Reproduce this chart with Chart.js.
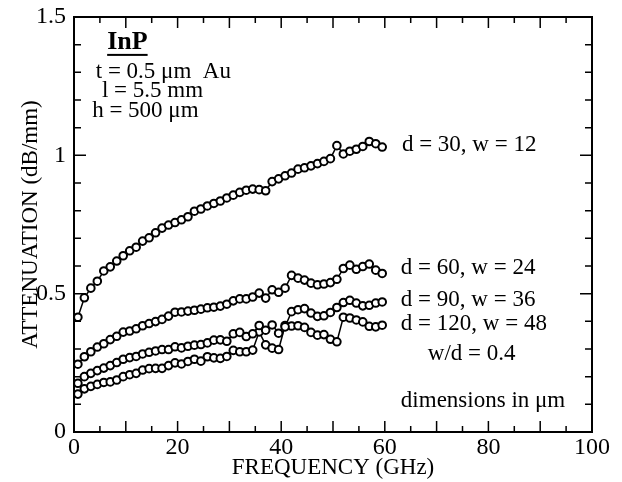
<!DOCTYPE html>
<html>
<head>
<meta charset="utf-8">
<script src="https://cdn.jsdelivr.net/npm/chart.js@4"></script>
<style>
  body { margin: 0; background: #fff; }
  #contenedor { width: 622px; height: 482px; }
</style>
</head>
<body>
<div id="contenedor"><canvas id="myChart"></canvas></div>
<script>
// Frecuencias (GHz) de las medidas
const frecuencias = [0.75, 2, 3.25, 4.5, 5.75, 7, 8.25, 9.5, 10.75, 12, 13.25, 14.5, 15.75, 17, 18.25, 19.5,
  20.75, 22, 23.25, 24.5, 25.75, 27, 28.25, 29.5, 30.75, 32, 33.25, 34.5, 35.75, 37, 38.25, 39.5,
  40.75, 42, 43.25, 44.5, 45.75, 47, 48.25, 49.5, 50.75, 52, 53.25, 54.5, 55.75, 57, 58.25, 59.5];

// Atenuacion (dB/mm) para cada geometria
const d30 = [0.415, 0.485, 0.52, 0.545, 0.582, 0.597, 0.618, 0.637, 0.655, 0.668, 0.69, 0.702, 0.72, 0.737, 0.748, 0.757,
  0.767, 0.778, 0.798, 0.806, 0.817, 0.826, 0.835, 0.846, 0.856, 0.866, 0.874, 0.878, 0.876, 0.872, 0.905, 0.915,
  0.926, 0.936, 0.95, 0.955, 0.962, 0.97, 0.978, 0.988, 1.035, 1.005, 1.015, 1.022, 1.032, 1.05, 1.042, 1.03];
const d60 = [0.245, 0.272, 0.29, 0.307, 0.319, 0.334, 0.346, 0.361, 0.365, 0.373, 0.384, 0.392, 0.399, 0.407, 0.419, 0.433,
  0.434, 0.437, 0.44, 0.444, 0.449, 0.451, 0.455, 0.462, 0.474, 0.481, 0.481, 0.488, 0.502, 0.484, 0.514, 0.505,
  0.52, 0.566, 0.556, 0.549, 0.538, 0.532, 0.535, 0.54, 0.552, 0.591, 0.603, 0.588, 0.598, 0.607, 0.585, 0.573];
const d90 = [0.176, 0.2, 0.212, 0.222, 0.231, 0.24, 0.251, 0.263, 0.269, 0.273, 0.282, 0.288, 0.293, 0.298, 0.298, 0.308,
  0.304, 0.31, 0.314, 0.316, 0.322, 0.332, 0.333, 0.328, 0.355, 0.36, 0.345, 0.355, 0.385, 0.368, 0.387, 0.357,
  0.38, 0.435, 0.442, 0.446, 0.43, 0.418, 0.42, 0.432, 0.45, 0.468, 0.476, 0.466, 0.456, 0.458, 0.466, 0.47];
const d120 = [0.137, 0.156, 0.165, 0.172, 0.179, 0.181, 0.188, 0.2, 0.207, 0.212, 0.224, 0.229, 0.23, 0.23, 0.24, 0.25,
  0.246, 0.255, 0.263, 0.256, 0.272, 0.268, 0.266, 0.273, 0.295, 0.29, 0.29, 0.296, 0.362, 0.315, 0.303, 0.298,
  0.385, 0.383, 0.384, 0.378, 0.36, 0.35, 0.352, 0.335, 0.326, 0.415, 0.412, 0.405, 0.398, 0.382, 0.38, 0.386];

// Etiquetas de los ejes
const etiquetasX = [0, 20, 40, 60, 80, 100];
const etiquetasY = [0, 0.5, 1, 1.5];

const fuente = '"Liberation Serif", "Times New Roman", serif';

function serie(valores) {
  return {
    data: valores.map((v, i) => ({ x: frecuencias[i], y: v })),
    borderColor: '#000',
    borderWidth: 1.5,
    pointRadius: 3.8,
    pointBorderWidth: 2,
    pointBackgroundColor: '#fff',
    pointBorderColor: '#000',
    tension: 0
  };
}

function esEtiquetaY(v) {
  return etiquetasY.some(e => Math.abs(e - v) < 1e-6);
}

// Marco, marcas hacia dentro y textos
const marco = {
  id: 'marco',
  afterDraw(chart) {
    const { ctx, chartArea: a, scales: { x, y } } = chart;
    ctx.save();
    ctx.strokeStyle = '#000';
    ctx.lineWidth = 2;
    ctx.strokeRect(a.left, a.top, a.right - a.left, a.bottom - a.top);

    ctx.lineWidth = 1.5;
    ctx.beginPath();
    x.ticks.forEach(t => {
      const px = x.getPixelForValue(t.value);
      const largo = t.value % 10 === 0 ? 11 : 6;
      ctx.moveTo(px, a.bottom); ctx.lineTo(px, a.bottom - largo);
      ctx.moveTo(px, a.top); ctx.lineTo(px, a.top + largo);
    });
    y.ticks.forEach(t => {
      const py = y.getPixelForValue(t.value);
      const largo = esEtiquetaY(t.value) ? 12 : 7;
      ctx.moveTo(a.left, py); ctx.lineTo(a.left + largo, py);
      ctx.moveTo(a.right, py); ctx.lineTo(a.right - largo, py);
    });
    ctx.stroke();

    ctx.fillStyle = '#000';
    ctx.textBaseline = 'middle';
    ctx.textAlign = 'left';

    // Titulo del sustrato
    ctx.font = 'bold 26px ' + fuente;
    const ix = x.getPixelForValue(6.4), iy = y.getPixelForValue(1.41);
    ctx.fillText('InP', ix, iy);
    const ancho = ctx.measureText('InP').width;
    ctx.fillRect(ix, iy + 12, ancho, 2);

    ctx.font = '23px ' + fuente;
    ctx.fillText('t = 0.5 μm  Au', x.getPixelForValue(4.2), y.getPixelForValue(1.30));
    ctx.fillText('l = 5.5 mm', x.getPixelForValue(5.4), y.getPixelForValue(1.231));
    ctx.fillText('h = 500 μm', x.getPixelForValue(3.5), y.getPixelForValue(1.162));

    ctx.font = '23px ' + fuente;
    ctx.fillText('d = 30, w = 12', x.getPixelForValue(63.3), y.getPixelForValue(1.036));
    ctx.fillText('d = 60, w = 24', x.getPixelForValue(63.1), y.getPixelForValue(0.592));
    ctx.fillText('d = 90, w = 36', x.getPixelForValue(63.1), y.getPixelForValue(0.477));
    ctx.fillText('d = 120, w = 48', x.getPixelForValue(63.1), y.getPixelForValue(0.39));
    ctx.fillText('w/d = 0.4', x.getPixelForValue(68.3), y.getPixelForValue(0.282));
    ctx.fillText('dimensions in μm', x.getPixelForValue(63.1), y.getPixelForValue(0.112));
    ctx.restore();
  }
};

const ctx = document.getElementById('myChart');

new Chart(ctx, {
  type: 'line',
  data: {
    datasets: [serie(d30), serie(d60), serie(d90), serie(d120)]
  },
  plugins: [marco],
  options: {
    responsive: true,
    maintainAspectRatio: false,
    animation: false,
    events: [],
    layout: { padding: { left: 0, right: 30, top: 17, bottom: 0 } },
    plugins: { legend: { display: false }, tooltip: { enabled: false } },
    scales: {
      x: {
        type: 'linear',
        min: 0,
        max: 100,
        grid: { display: false, drawTicks: false },
        border: { display: false },
        ticks: {
          stepSize: 5,
          autoSkip: false,
          maxRotation: 0,
          padding: 1,
          color: '#000',
          font: { family: fuente, size: 24 },
          callback: v => etiquetasX.includes(v) ? String(v) : ''
        },
        title: {
          display: true,
          text: 'FREQUENCY (GHz)',
          color: '#000',
          font: { family: fuente, size: 23 },
          padding: { top: -4, bottom: 0 }
        },
        afterFit: scale => { scale.height = 50; scale.paddingLeft = 0; scale.paddingRight = 0; }
      },
      y: {
        min: 0,
        max: 1.5,
        grid: { display: false, drawTicks: false },
        border: { display: false },
        ticks: {
          stepSize: 0.1,
          autoSkip: false,
          padding: 8,
          color: '#000',
          font: { family: fuente, size: 24 },
          callback: v => esEtiquetaY(v) ? String(Math.round(v * 10) / 10) : ''
        },
        title: {
          display: true,
          text: 'ATTENUATION (dB/mm)',
          color: '#000',
          font: { family: fuente, size: 23 },
          padding: { top: 17, bottom: 0 }
        },
        afterFit: scale => { scale.width = 74; scale.paddingTop = 0; scale.paddingBottom = 0; }
      }
    }
  }
});
</script>
</body>
</html>
